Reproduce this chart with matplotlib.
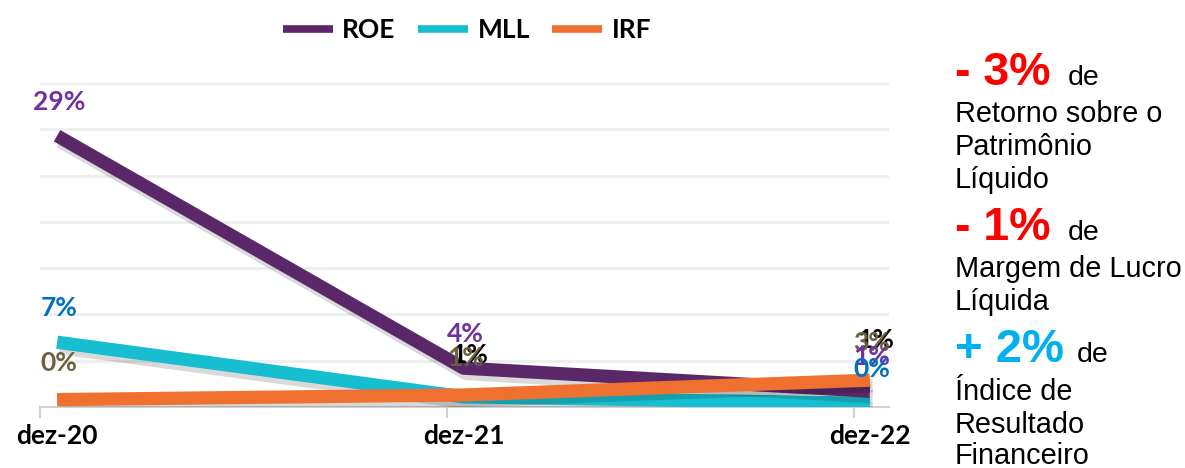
import matplotlib
matplotlib.use("Agg")
import matplotlib.pyplot as plt
import matplotlib.patheffects as pe

periods = ["dez-20", "dez-21", "dez-22"]
roe = [29.3, 4.2, 1.7]
mll = [7.0, 1.1, 0.4]
irf = [0.8, 1.3, 2.9]
roe_lbl = ["29%", "4%", "1%"]
mll_lbl = ["7%", "", "0%"]
irf_lbl = ["0%", "1%", "3%"]
hidden_lbl = ["", "1%", "1%"]  # black labels that sit behind the others

C_ROE, C_MLL, C_IRF = "#5A2769", "#17BECF", "#F07030"
L_ROE, L_MLL, L_IRF = "#7030A0", "#0070C0", "#6B6040"

plt.rcParams["font.family"] = ["Lato", "DejaVu Sans"]

fig = plt.figure(figsize=(11.85, 4.68), dpi=100)
ax = fig.add_axes([40 / 1185, 61 / 468, 849 / 1185, 324 / 468])

x = list(range(len(periods)))
shadow = [pe.SimpleLineShadow(offset=(2, -4), shadow_color="k", alpha=0.15), pe.Normal()]
ax.plot(x, mll, color=C_MLL, lw=9.5, solid_capstyle="butt", label="MLL", path_effects=shadow, zorder=3)
ax.plot(x, roe, color=C_ROE, lw=9.5, solid_capstyle="butt", label="ROE", path_effects=shadow, zorder=4)
ax.plot(x, irf, color=C_IRF, lw=9.5, solid_capstyle="butt", label="IRF", path_effects=shadow, zorder=5)

ax.set_ylim(0, 35)
ax.set_xlim(-0.042, 2.047)
ax.set_yticks(range(0, 36, 5))
ax.yaxis.grid(True, color="#EEEEEE", lw=2)
ax.set_axisbelow(True)
ax.tick_params(axis="y", left=False, labelleft=False)
for s in ["top", "right", "left"]:
    ax.spines[s].set_visible(False)
ax.spines["bottom"].set_color("#D0D0D0")
ax.spines["bottom"].set_linewidth(1.5)

ax.set_xticks(x)
ax.set_xticklabels(periods, fontsize=19, fontweight="bold")
ax.tick_params(axis="x", length=0, pad=12)
ax.set_xticks([-0.042, 0.96, 1.96], minor=True)
ax.tick_params(axis="x", which="minor", length=8, color="#D0D0D0", width=1.5)


def labels(vals, texts, color, dy, dx=0, z=6):
    for xi, v, t in zip(x, vals, texts):
        if t:
            ax.annotate(t, (xi, v), xytext=(dx, dy), textcoords="offset pixels",
                        ha="center", va="center", color=color, fontsize=19,
                        fontweight="bold", zorder=z, annotation_clip=False)


labels(irf, hidden_lbl, "black", 40, dx=6, z=6)
labels(irf, irf_lbl, L_IRF, 37, dx=2, z=7)
labels(roe, roe_lbl, L_ROE, 34, dx=2, z=8)
labels(mll, mll_lbl, L_MLL, 34, dx=2, z=9)

order = ["ROE", "MLL", "IRF"]
h, l = ax.get_legend_handles_labels()
hmap = dict(zip(l, h))
leg = ax.legend([hmap[k] for k in order], order, loc="center",
                bbox_to_anchor=(0.503, 1 + 53 / 324), ncol=3, frameon=False,
                prop={"size": 19, "weight": "bold"}, handlelength=1.9,
                handletextpad=0.35, columnspacing=0.85)
for line in leg.get_lines():
    line.set_path_effects([])
    line.set_linewidth(5.5)

# side text
side = "Liberation Sans"


def t(xp, yp, s, **kw):
    fig.text(xp / 1185, 1 - yp / 468, s, family=side, va="baseline", **kw)


t(955, 85, "- 3%", color="#FF0000", fontsize=33.5, fontweight="bold")
t(1068, 85, "de", color="black", fontsize=20.5)
for yy, s in [(122, "Retorno sobre o"), (155, "Patrimônio"), (188, "Líquido")]:
    t(955, yy, s, color="black", fontsize=20.8)
t(955, 240, "- 1%", color="#FF0000", fontsize=33.5, fontweight="bold")
t(1068, 240, "de", color="black", fontsize=20.5)
for yy, s in [(277, "Margem de Lucro"), (310, "Líquida")]:
    t(955, yy, s, color="black", fontsize=20.8)
t(955, 362, "+ 2%", color="#00B0F0", fontsize=34, fontweight="bold")
t(1077, 362, "de", color="black", fontsize=20.5)
for yy, s in [(400, "Índice de"), (433, "Resultado"), (464, "Financeiro")]:
    t(955, yy, s, color="black", fontsize=20.8)

fig.savefig("out.png", dpi=100)
